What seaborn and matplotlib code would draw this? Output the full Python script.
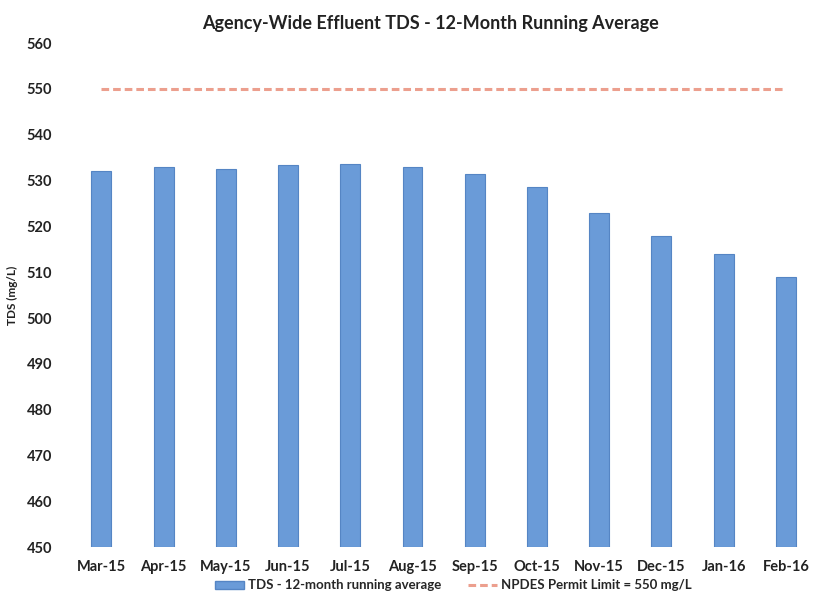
import matplotlib
matplotlib.use("Agg")
import matplotlib.pyplot as plt
import seaborn as sns
import pandas as pd
from matplotlib.patches import Patch
from matplotlib.lines import Line2D

months = ["Mar-15", "Apr-15", "May-15", "Jun-15", "Jul-15", "Aug-15",
          "Sep-15", "Oct-15", "Nov-15", "Dec-15", "Jan-16", "Feb-16"]
tds_avg = [532.0, 533.0, 532.5, 533.3, 533.5, 533.0,
           531.5, 528.5, 523.0, 518.0, 514.0, 509.0]
permit_limit = [550] * len(months)
y_ticks = list(range(450, 561, 10))

df = pd.DataFrame({"month": months, "tds": tds_avg, "limit": permit_limit})

sns.set_theme(style="white")
plt.rcParams["font.family"] = ["Lato", "DejaVu Sans"]

fig = plt.figure(figsize=(8.17, 6.06), dpi=100)
ax = fig.add_axes([0.086, 0.097, 0.914, 0.832])

bar_color = "#6A9BD8"
edge_color = "#5585C4"
sns.barplot(data=df, x="month", y="tds", color=bar_color, saturation=1, width=0.32,
            edgecolor=edge_color, linewidth=0.8, ax=ax)
# bars rise from the axis floor at 450
for p in ax.patches:
    p.set_y(450)
    p.set_height(p.get_height() - 450)

line_color = "#EC9F8E"
sns.lineplot(data=df, x="month", y="limit", color=line_color, linewidth=2.2,
             linestyle=(0, (2.5, 1.3)), ax=ax)

ax.set_ylim(450, 560)
ax.set_xlim(-0.5, len(months) - 0.5)
ax.set_yticks(y_ticks)
ax.set_yticklabels([str(t) for t in y_ticks], fontsize=10.5, fontweight="bold", color="#222222")
ax.set_xticks(range(len(months)))
ax.set_xticklabels(months, fontsize=10.5, fontweight="bold", color="#222222")
ax.tick_params(axis="x", length=0, pad=9)
ax.tick_params(axis="y", length=0, pad=13)
for s in ax.spines.values():
    s.set_visible(False)
ax.set_xlabel("")
ax.set_ylabel("TDS (mg/L)", fontsize=8.5, fontweight="bold", color="#222222")
ax.yaxis.set_label_coords(-0.07, 0.5)

fig.suptitle("Agency-Wide Effluent TDS - 12-Month Running Average", x=0.527, y=0.975,
             fontsize=13, fontweight="bold", color="#222222")

handles = [Patch(facecolor=bar_color, edgecolor=edge_color),
           Line2D([0], [0], color=line_color, linewidth=2.2, linestyle=(0, (2.5, 1.3)))]
labels = ["TDS - 12-month running average", "NPDES Permit Limit = 550 mg/L"]
fig.legend(handles, labels, loc="center", bbox_to_anchor=(0.555, 0.034), ncol=2,
           frameon=False, handlelength=2.2, handleheight=0.6, columnspacing=2.0,
           handletextpad=0.3, prop={"weight": "bold", "size": 9.5})

fig.savefig("out.png", dpi=100)
